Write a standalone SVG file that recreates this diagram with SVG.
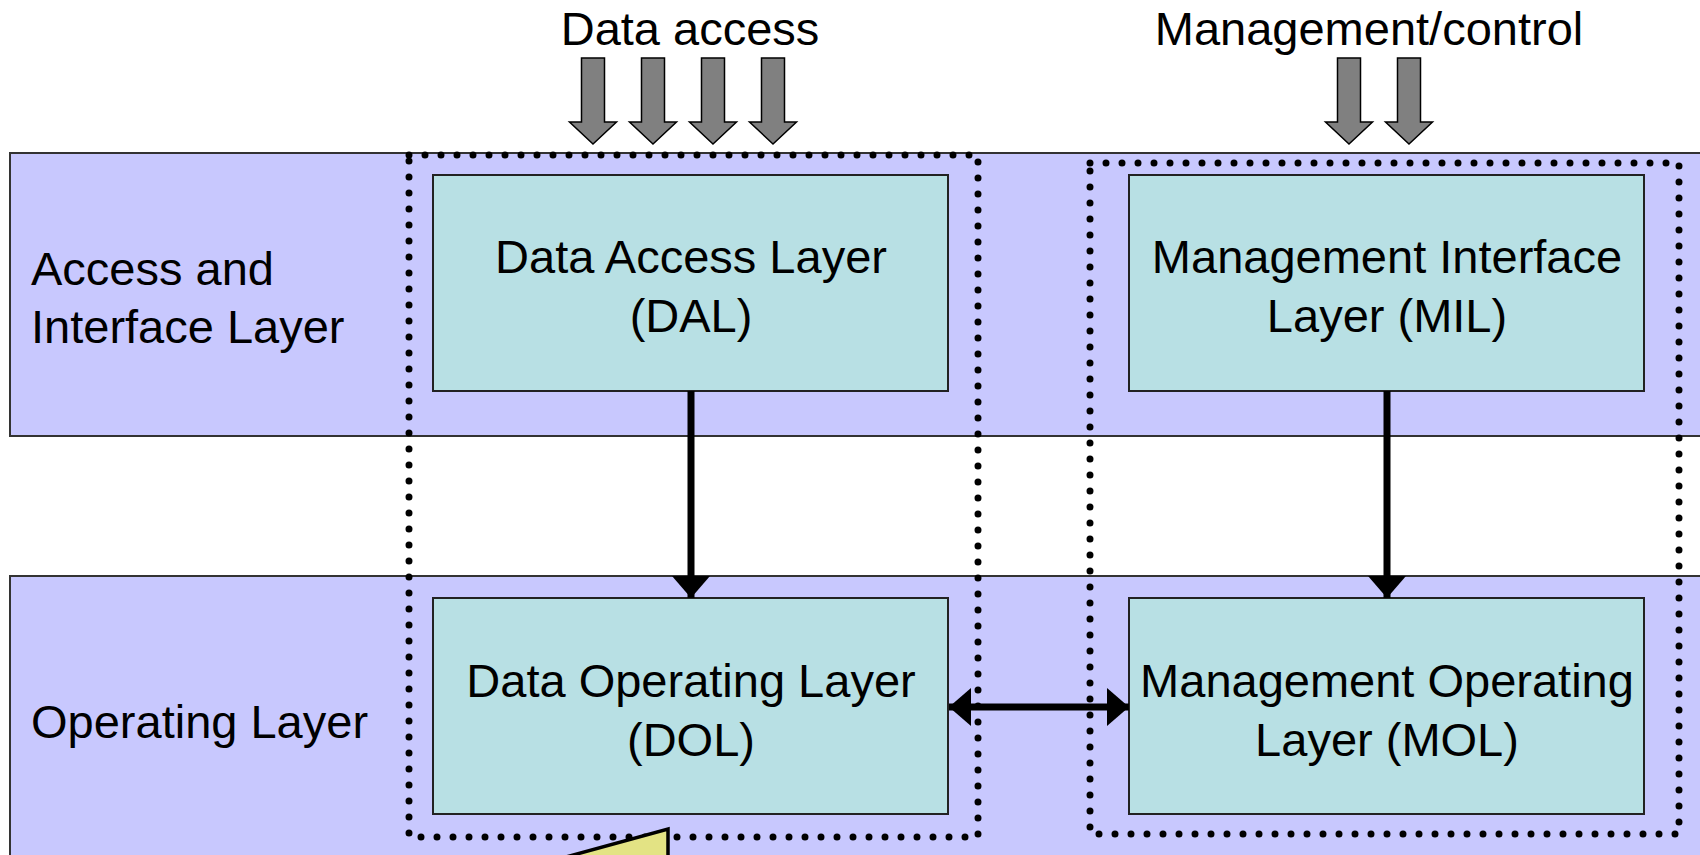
<svg xmlns="http://www.w3.org/2000/svg" width="1700" height="855" viewBox="0 0 1700 855">
<defs>
<style>
.band{fill:#c8c8fe;stroke:#333;stroke-width:2}
.box{fill:#b8e0e4;stroke:#222;stroke-width:2}
.dots{fill:none;stroke:#000;stroke-width:7;stroke-dasharray:0 16;stroke-linecap:round}
.t{font-family:"Liberation Sans",Arial,sans-serif;font-size:47px;fill:#000}
.c{text-anchor:middle}
.blk{fill:#808080;stroke:#000;stroke-width:1.5;stroke-linejoin:miter}
.conn{stroke:#000;stroke-width:7;fill:none}
</style>
<marker id="ah" viewBox="0 0 22 38" refX="22" refY="19" markerWidth="22" markerHeight="38" markerUnits="userSpaceOnUse" orient="auto-start-reverse">
<path d="M0,0 L22,19 L0,38 Z" fill="#000"/>
</marker>
</defs>
<rect width="1700" height="855" fill="#fff"/>
<g id="layer-access">
<rect class="band" x="10" y="153" width="1700" height="283"/>
<text class="t" x="31" y="285">Access and</text>
<text class="t" x="31" y="343">Interface Layer</text>
</g>
<g id="layer-operating">
<rect class="band" x="10" y="576" width="1700" height="300"/>
<text class="t" x="31" y="738">Operating Layer</text>
</g>
<g id="dal">
<rect class="box" x="433" y="175" width="515" height="216"/>
<text class="t c" x="691" y="273">Data Access Layer</text>
<text class="t c" x="691" y="332">(DAL)</text>
</g>
<g id="mil">
<rect class="box" x="1129" y="175" width="515" height="216"/>
<text class="t c" x="1387" y="273">Management Interface</text>
<text class="t c" x="1387" y="332">Layer (MIL)</text>
</g>
<g id="dol">
<rect class="box" x="433" y="598" width="515" height="216"/>
<text class="t c" x="691" y="697">Data Operating Layer</text>
<text class="t c" x="691" y="756">(DOL)</text>
</g>
<g id="mol">
<rect class="box" x="1129" y="598" width="515" height="216"/>
<text class="t c" x="1387" y="697">Management Operating</text>
<text class="t c" x="1387" y="756">Layer (MOL)</text>
</g>
<g id="data-group">
<rect class="dots" x="409" y="155" width="569" height="682"/>
</g>
<g id="mgmt-group">
<rect class="dots" x="1090" y="163" width="589" height="671"/>
</g>
<g id="data-access-input">
<text class="t c" x="690" y="45">Data access</text>
<path class="blk" d="M581.5,58 H604.5 V122 H616.5 L593,144 L569.5,122 H581.5 Z"/>
<path class="blk" d="M641.5,58 H664.5 V122 H676.5 L653,144 L629.5,122 H641.5 Z"/>
<path class="blk" d="M701.5,58 H724.5 V122 H736.5 L713,144 L689.5,122 H701.5 Z"/>
<path class="blk" d="M761.5,58 H784.5 V122 H796.5 L773,144 L749.5,122 H761.5 Z"/>
</g>
<g id="mgmt-input">
<text class="t c" x="1369" y="45">Management/control</text>
<path class="blk" d="M1337.5,58 H1360.5 V122 H1372.5 L1349,144 L1325.5,122 H1337.5 Z"/>
<path class="blk" d="M1397.5,58 H1420.5 V122 H1432.5 L1409,144 L1385.5,122 H1397.5 Z"/>
</g>
<g id="connectors">
<line class="conn" x1="691" y1="391" x2="691" y2="598" marker-end="url(#ah)"/>
<line class="conn" x1="1387" y1="391" x2="1387" y2="598" marker-end="url(#ah)"/>
<line class="conn" x1="949" y1="707" x2="1129" y2="707" marker-start="url(#ah)" marker-end="url(#ah)"/>
</g>
<g id="callout">
<path d="M668,829 L668,870 L555,860 Z" fill="#e3e384" stroke="#000" stroke-width="3.5" stroke-linejoin="miter"/>
</g>
</svg>
